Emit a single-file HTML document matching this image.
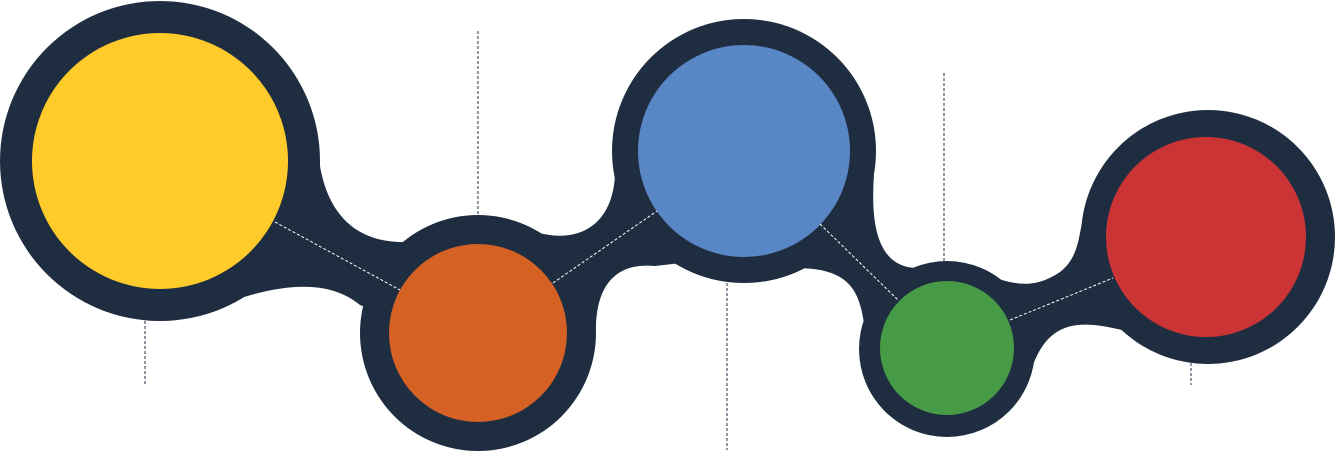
<!DOCTYPE html>
<html><head><meta charset="utf-8"><style>
html,body{margin:0;padding:0;background:#fff;width:1336px;height:452px;overflow:hidden}
</style></head><body>
<svg width="1336" height="452" viewBox="0 0 1336 452" xmlns="http://www.w3.org/2000/svg">
<g fill="#1f2d40">
<circle cx="160" cy="161" r="160"/>
<circle cx="478" cy="333" r="118"/>
<circle cx="744" cy="151" r="132"/>
<circle cx="947" cy="349" r="88"/>
<circle cx="1208" cy="237" r="127"/>
<path d="M318 150 C322 200 345 245 410 242 L425 330 L360 305 C330 280 285 283 235 300 Z"/>
<path d="M530 230 C570 245 612 232 615 175 L690 200 L690 262 L655 266 C612 262 596 290 596 330 L520 300 Z"/>
<path d="M874 175 C870 230 880 268 918 268 L950 330 L865 330 C860 290 850 268 795 268 Z"/>
<path d="M985 275 C1010 282 1030 292 1060 272 C1082 255 1078 228 1085 215 L1150 300 L1122 330 C1080 320 1050 320 1033 365 Z"/>
</g>
<circle cx="160" cy="161" r="128" fill="#fecb2b"/>
<circle cx="478" cy="333" r="89" fill="#d66125"/>
<circle cx="744" cy="151" r="106" fill="#5986c4"/>
<circle cx="947" cy="348" r="67" fill="#489b46"/>
<circle cx="1206" cy="237" r="100" fill="#cb3435"/>
<g stroke="#fff" stroke-width="1" stroke-dasharray="3,2">
<line x1="275" y1="222" x2="400" y2="290"/>
<line x1="553" y1="283" x2="657" y2="211"/>
<line x1="820" y1="224" x2="898" y2="300"/>
<line x1="1010" y1="320" x2="1113" y2="278"/>
</g>
<g stroke="#1f2d40" stroke-width="1" stroke-dasharray="3,2">
<line x1="145" y1="321" x2="145" y2="385"/>
<line x1="478" y1="31" x2="478" y2="215"/>
<line x1="727" y1="283" x2="727" y2="450"/>
<line x1="944" y1="73" x2="944" y2="262"/>
<line x1="1191" y1="363" x2="1191" y2="385"/>
</g>
</svg>
</body></html>
